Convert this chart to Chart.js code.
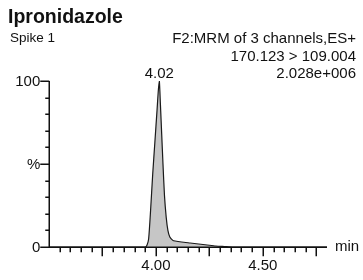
<!DOCTYPE html>
<html>
<head>
<title>Ipronidazole</title>
<style>
  body { margin: 0; background: #fff; font-family: Arial, "Liberation Sans", sans-serif; }
  #wrap { position: relative; width: 363px; height: 280px; overflow: hidden; }
  #chart { position: absolute; left: 0; top: 0; }
  .t { position: absolute; color: #111; white-space: nowrap; line-height: 1; }
</style>
</head>
<body>
<div id="wrap">
  <canvas id="chart" width="363" height="280"></canvas>
  <div class="t" style="left:8px; top:6.5px; font-size:19.5px; font-weight:bold;">Ipronidazole</div>
  <div class="t" style="left:10px; top:30.5px; font-size:13.5px;">Spike 1</div>
  <div class="t" style="right:7px; top:29.5px; font-size:15px; text-align:right;">F2:MRM of 3 channels,ES+</div>
  <div class="t" style="right:7px; top:47.5px; font-size:15px; text-align:right;">170.123 &gt; 109.004</div>
  <div class="t" style="right:7px; top:64.5px; font-size:15px; text-align:right;">2.028e+006</div>
</div>

<script src="https://cdn.jsdelivr.net/npm/chart.js"></script>
<script>
  // retention time (min) and relative intensity (%)
  const times = [3.50, 3.95, 3.958, 3.966, 3.975, 3.985, 3.995, 4.005, 4.011, 4.016, 4.021, 4.027, 4.033, 4.040, 4.048, 4.056, 4.065, 4.079, 4.09, 4.12, 4.16, 4.20, 4.24, 4.28, 4.32, 4.36, 4.80];
  const intensity = [0, 0, 1, 5, 22, 44, 63, 82, 94, 100, 86, 68, 50, 31, 18, 10, 6, 4, 3.6, 3.0, 2.4, 1.8, 1.2, 0.6, 0.3, 0, 0];

  // axis settings
  const xMin = 3.50, xMax = 4.80;
  const xMinorStep = 0.05, xMajorEvery = 5;   // long tick every 0.25 min
  const xLabelValues = [4.00, 4.50];
  const xLabelTexts = ['4.00', '4.50'];
  const yLabelValues = [0, 50, 100];
  const yLabelTexts = ['0', '%', '100'];
  const yMinorStep = 10;
  const peakTime = 4.016, peakText = '4.02';

  const points = times.map((t, i) => ({ x: t, y: intensity[i] }));

  const axesPlugin = {
    id: 'msAxes',
    afterDatasetsDraw(chart) {
      const ctx = chart.ctx;
      const xs = chart.scales.x, ys = chart.scales.y;
      const a = chart.chartArea;
      const x0 = Math.round(a.left) + 0.25;
      const yb = Math.round(a.bottom) + 0.25;
      ctx.save();
      ctx.strokeStyle = '#111';
      ctx.fillStyle = '#111';
      ctx.lineWidth = 1.5;

      // axis lines
      ctx.beginPath();
      ctx.moveTo(x0, Math.round(a.top));
      ctx.lineTo(x0, yb);
      ctx.lineTo(Math.round(a.right), yb);
      ctx.stroke();

      // x ticks
      const n = Math.round((xMax - xMin) / xMinorStep);
      ctx.beginPath();
      for (let i = 1; i < n; i++) {
        const px = Math.round(xs.getPixelForValue(xMin + i * xMinorStep)) + 0.25;
        const len = (i % xMajorEvery === 0) ? 9 : 5;
        ctx.moveTo(px, yb);
        ctx.lineTo(px, yb + len);
      }
      // y ticks
      for (let v = 0; v <= 100; v += yMinorStep) {
        const py = Math.round(ys.getPixelForValue(v)) + 0.25;
        const len = yLabelValues.includes(v) ? 9 : 4;
        ctx.moveTo(x0, py);
        ctx.lineTo(x0 - len, py);
      }
      ctx.stroke();

      ctx.font = '15px Arial, "Liberation Sans", sans-serif';
      ctx.textAlign = 'center';
      ctx.textBaseline = 'top';
      xLabelValues.forEach((v, i) => {
        ctx.fillText(xLabelTexts[i], xs.getPixelForValue(v), yb + 11);
      });
      ctx.textAlign = 'right';
      ctx.textBaseline = 'middle';
      yLabelValues.forEach((v, i) => {
        ctx.fillText(yLabelTexts[i], x0 - 9, ys.getPixelForValue(v) + 1);
      });
      ctx.textAlign = 'left';
      ctx.fillText('min', Math.round(a.right) + 8, yb);

      // peak retention time label
      ctx.textAlign = 'center';
      ctx.textBaseline = 'alphabetic';
      ctx.fillText(peakText, xs.getPixelForValue(peakTime), ys.getPixelForValue(100) - 3);
      ctx.restore();
    }
  };

  new Chart(document.getElementById('chart'), {
    type: 'line',
    data: {
      datasets: [{
        data: points,
        borderColor: '#1a1a1a',
        borderWidth: 1.2,
        backgroundColor: '#c6c6c6',
        fill: 'origin',
        pointRadius: 0,
        tension: 0.2
      }]
    },
    options: {
      responsive: false,
      animation: false,
      layout: { padding: { left: 49, right: 36, top: 81, bottom: 33 } },
      scales: {
        x: { type: 'linear', min: xMin, max: xMax, display: false },
        y: { min: 0, max: 100, display: false }
      },
      plugins: { legend: { display: false }, tooltip: { enabled: false } }
    },
    plugins: [axesPlugin]
  });
</script>
</body>
</html>
